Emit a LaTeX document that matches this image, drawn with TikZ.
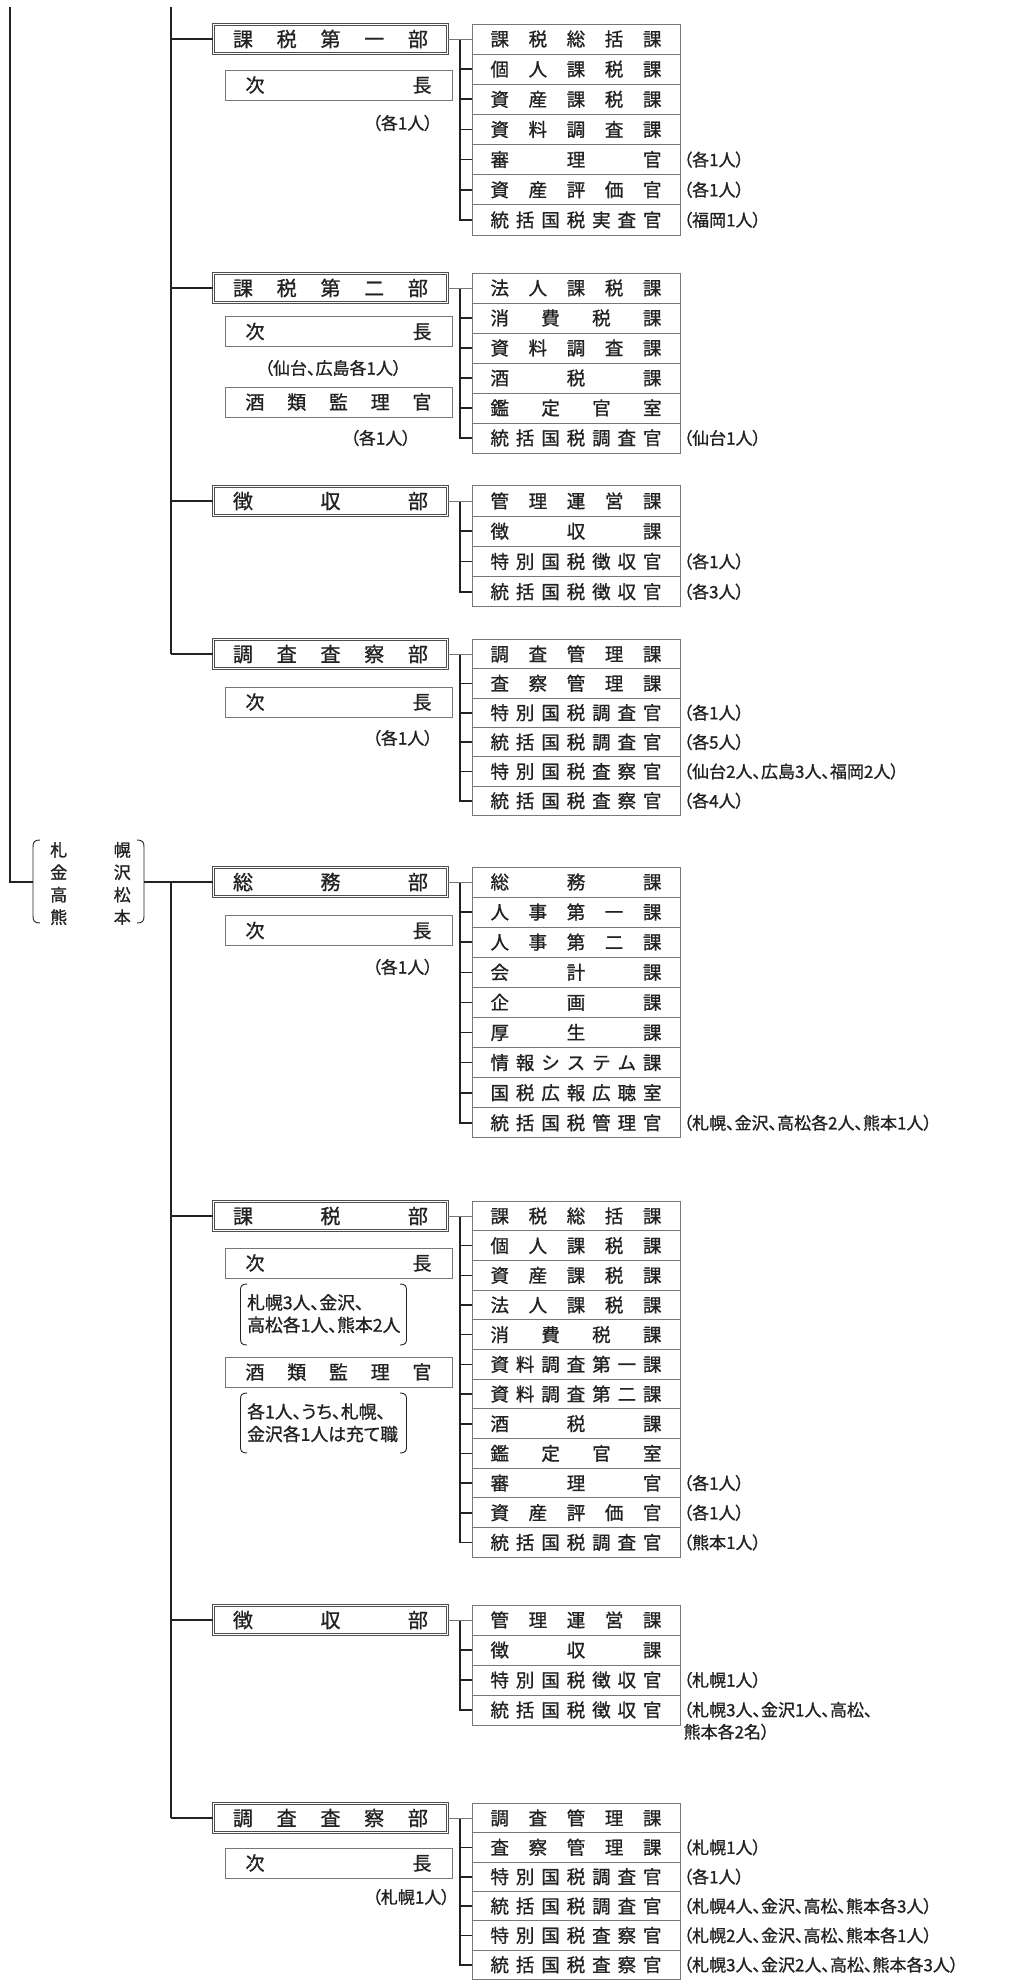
\documentclass[tikz,border=0pt]{standalone}
\usepackage{fontspec}
\setmainfont{Noto Sans CJK JP}[FakeBold=1]
\newfontfamily\jpp{Noto Sans CJK JP}[RawFeature=+palt,FakeBold=1]
\usetikzlibrary{calc}
\makeatletter
\def\spr#1{\spr@a#1\spr@end}
\def\spr@a#1#2\spr@end{#1\if\relax\detokenize{#2}\relax\else\hfill\spr@a#2\spr@end\fi}
\makeatother
\definecolor{ink}{HTML}{222222}
\definecolor{boxline}{HTML}{777777}
\tikzset{
  trunk/.style={draw=ink, line width=1.6pt},
  thinline/.style={draw=boxline, line width=0.9pt},
  paren/.style={draw=ink, line width=0.9pt},
  deptbox/.style={draw=ink!80, double=white, double distance=1.4pt, line width=0.7pt,
    minimum width=234.2pt, minimum height=29.2pt, inner sep=0pt, text=ink,
    font=\fontsize{20}{22}\selectfont, text height=15.2pt, text depth=0pt},
  rowbox/.style={draw=boxline, line width=0.8pt, minimum width=208pt, inner sep=0pt, text=ink,
    font=\fontsize{18.5}{20}\selectfont, text height=14pt, text depth=0pt},
  subbox/.style={draw=boxline, line width=0.8pt, minimum width=227pt, minimum height=30pt,
    inner sep=0pt, text=ink, font=\fontsize{19}{21}\selectfont, text height=14.4pt, text depth=0pt},
  note/.style={inner sep=0pt, text=ink, font=\jpp\fontsize{17}{22}\selectfont,
    text height=13pt, text depth=0pt, anchor=west},
  note2/.style={inner sep=0pt, text=ink, font=\jpp\fontsize{17}{22}\selectfont, align=left},
  bnote/.style={inner sep=0pt, text=ink, font=\jpp\fontsize{17.8}{22.5}\selectfont, align=left},
}
% #1 prefix, #2 dept centre y, #3 row height, #4 dept text, #5 rows (text/note)
\newcommand\deptsec[5]{%
  \node[deptbox] (#1) at (330.5,#2) {\makebox[195pt]{\spr{#4}}};
  \coordinate (#1-j) at (460,#2);
  \foreach \t/\n [count=\i] in {#5} {
    \node[rowbox, minimum height=#3] (#1-\i) at (576,{#2+(\i-1)*#3})
      {\makebox[171pt]{\expandafter\spr\expandafter{\t}}};
    \ifx\n\empty\else
      \node[note] (#1-\i-n) at ([xshift=3pt]#1-\i.east) {\n};
    \fi
    \ifnum\i>1
      \pgfmathtruncatemacro\prev{\i-1}
      \draw[trunk] (#1-\prev.west -| #1-j) |- (#1-\i.west);
    \fi
  }
  \draw[thinline] (#1.east) -- (#1-1.west);
}
\begin{document}
\begin{tikzpicture}[x=1pt,y=-1pt]
\useasboundingbox (0,0) rectangle (1014,1980);
\fill[white] (0,0) rectangle (1014,1980);

% ---------- group 1 ----------
\coordinate (topA) at (10,7);
\coordinate (topB) at (171,7);

\deptsec{s1}{39}{30.15}{課税第一部}{課税総括課/,個人課税課/,資産課税課/,資料調査課/,審理官/（各1人）,資産評価官/（各1人）,統括国税実査官/（福岡1人）}
\node[subbox] (s1-v) at (338.5,85) {\makebox[186pt]{\spr{次長}}};
\node[note, anchor=east] (s1-vn) at (433,123) {（各1人）};

\deptsec{s2}{288}{30}{課税第二部}{法人課税課/,消費税課/,資料調査課/,酒税課/,鑑定官室/,統括国税調査官/（仙台1人）}
\node[subbox] (s2-v) at (338.5,331.5) {\makebox[186pt]{\spr{次長}}};
\node[note, anchor=center] (s2-vn) at (333,368) {（仙台、広島各1人）};
\node[subbox] (s2-s) at (338.5,402) {\makebox[186pt]{\spr{酒類監理官}}};
\node[note, anchor=east] (s2-sn) at (411,438) {（各1人）};

\deptsec{s3}{501}{30.25}{徴収部}{管理運営課/,徴収課/,特別国税徴収官/（各1人）,統括国税徴収官/（各3人）}

\deptsec{s4}{654}{29.35}{調査査察部}{調査管理課/,査察管理課/,特別国税調査官/（各1人）,統括国税調査官/（各5人）,特別国税査察官/（仙台2人、広島3人、福岡2人）,統括国税査察官/（各4人）}
\node[subbox] (s4-v) at (338.5,702) {\makebox[186pt]{\spr{次長}}};
\node[note, anchor=east] (s4-vn) at (433,738) {（各1人）};

\draw[trunk] (topB) -- (topB |- s4.west);
\foreach \d in {s1,s2,s3,s4} \draw[trunk] (\d.west -| topB) -- (\d.west);

% ---------- group 2 ----------
\node[inner sep=0pt, text=ink, align=left, font=\fontsize{17}{22.4}\selectfont] (pref) at (90.5,883.5)
  {札\hspace{46.5pt}幌\\金\hspace{46.5pt}沢\\高\hspace{46.5pt}松\\熊\hspace{46.5pt}本};
\draw[paren] (40,840) .. controls (34.5,840) and (33,842) .. (33,847) -- (33,916) .. controls (33,921) and (34.5,923) .. (40,923);
\draw[paren] (137,840) .. controls (142.5,840) and (144,842) .. (144,847) -- (144,916) .. controls (144,921) and (142.5,923) .. (137,923);
\coordinate (lparen) at (33,882);
\coordinate (rparen) at (144,882);
\draw[trunk] (topA) |- (lparen);

\deptsec{s5}{882}{30.1}{総務部}{総務課/,人事第一課/,人事第二課/,会計課/,企画課/,厚生課/,情報システム課/,国税広報広聴室/,統括国税管理官/（札幌、金沢、高松各2人、熊本1人）}
\node[subbox] (s5-v) at (338.5,930.5) {\makebox[186pt]{\spr{次長}}};
\node[note, anchor=east] (s5-vn) at (433,967) {（各1人）};

\deptsec{s6}{1216}{29.67}{課税部}{課税総括課/,個人課税課/,資産課税課/,法人課税課/,消費税課/,資料調査第一課/,資料調査第二課/,酒税課/,鑑定官室/,審理官/（各1人）,資産評価官/（各1人）,統括国税調査官/（熊本1人）}
\node[subbox] (s6-v) at (338.5,1263) {\makebox[186pt]{\spr{次長}}};
\node[bnote, anchor=north west] (s6-vn) at (247,1294) {札幌3人、金沢、\\高松各1人、熊本2人};
\draw[paren] (247,1284) .. controls (242,1284) and (240.5,1286) .. (240.5,1290) -- (240.5,1339) .. controls (240.5,1343) and (242,1345) .. (247,1345);
\draw[paren] (400,1284) .. controls (405,1284) and (406.5,1286) .. (406.5,1290) -- (406.5,1339) .. controls (406.5,1343) and (405,1345) .. (400,1345);
\node[subbox] (s6-s) at (338.5,1372) {\makebox[186pt]{\spr{酒類監理官}}};
\node[bnote, anchor=north west] (s6-sn) at (247,1403) {各1人、うち、札幌、\\金沢各1人は充て職};
\draw[paren] (247,1393) .. controls (242,1393) and (240.5,1395) .. (240.5,1399) -- (240.5,1447) .. controls (240.5,1451) and (242,1453) .. (247,1453);
\draw[paren] (400,1393) .. controls (405,1393) and (406.5,1395) .. (406.5,1399) -- (406.5,1447) .. controls (406.5,1451) and (405,1453) .. (400,1453);

\deptsec{s7}{1620}{30}{徴収部}{管理運営課/,徴収課/,特別国税徴収官/（札幌1人）,統括国税徴収官/}
\node[note2, anchor=north west] (s7-4-n) at ([xshift=3pt,yshift=8.5pt]s7-4.east) {（札幌3人、金沢1人、高松、\\熊本各2名）};

\deptsec{s8}{1818}{29.35}{調査査察部}{調査管理課/,査察管理課/（札幌1人）,特別国税調査官/（各1人）,統括国税調査官/（札幌4人、金沢、高松、熊本各3人）,特別国税査察官/（札幌2人、金沢、高松、熊本各1人）,統括国税査察官/（札幌3人、金沢2人、高松、熊本各3人）}
\node[subbox] (s8-v) at (338.5,1863) {\makebox[186pt]{\spr{次長}}};
\node[note, anchor=east] (s8-vn) at (450,1897) {（札幌1人）};

\coordinate (trunkB) at (171,882);
\draw[trunk] (rparen) -- (s5.west);
\draw[trunk] (trunkB) -- (trunkB |- s8.west);
\foreach \d in {s6,s7,s8} \draw[trunk] (\d.west -| trunkB) -- (\d.west);
\end{tikzpicture}
\end{document}
